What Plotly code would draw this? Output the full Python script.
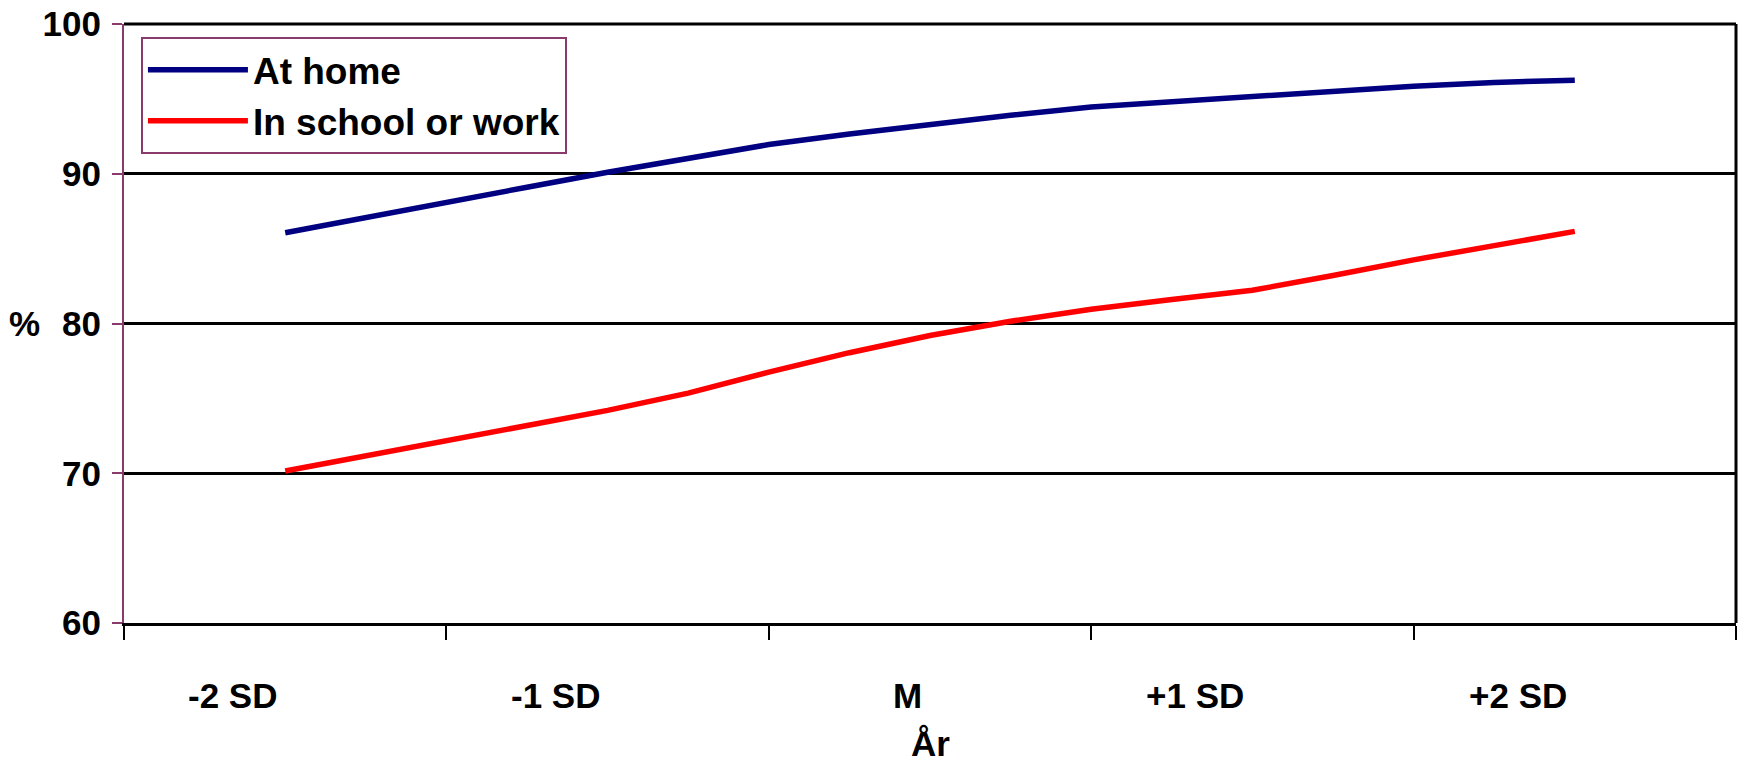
import plotly.graph_objects as go

# Category labels on the x axis (one per SD band)
categories = ["-2 SD", "-1 SD", "M", "+1 SD", "+2 SD"]

# Sample positions along the x axis, in category units (0 = "-2 SD", 4 = "+2 SD")
x_pos = [0, 0.25, 0.5, 0.75, 1, 1.25, 1.5, 1.75, 2, 2.25, 2.5, 2.75, 3, 3.25, 3.5, 3.75, 4]

# Share (%) for each group
at_home = [86.06, 87.1, 88.15, 89.1, 90.1, 91.05, 91.95, 92.66, 93.3,
           93.9, 94.45, 94.8, 95.15, 95.5, 95.85, 96.1, 96.25]
in_school_or_work = [70.15, 71.15, 72.2, 73.2, 74.2, 75.35, 76.75, 78.05, 79.2,
                     80.15, 80.95, 81.6, 82.22, 83.2, 84.25, 85.2, 86.15]

y_ticks = [60, 70, 80, 90, 100]

FONT = "Liberation Sans, Arial, sans-serif"
PURPLE = "#8B3A6E"
TXT = dict(family=FONT, size=35, color="black", weight="bold")

fig = go.Figure()
fig.add_trace(go.Scatter(x=x_pos, y=at_home, mode="lines", name="At home",
                         line=dict(color="#000080", width=5.5), legendgroup="a"))
fig.add_trace(go.Scatter(x=x_pos, y=in_school_or_work, mode="lines", name="In school or work",
                         line=dict(color="#FF0000", width=5.5), legendgroup="b"))

n = len(categories)
fig.update_xaxes(
    range=[-0.5, n - 0.5],
    tickvals=[i - 0.5 for i in range(n + 1)],
    showticklabels=False,
    ticks="outside", ticklen=14, tickwidth=2, tickcolor="black",
    showline=True, linecolor="black", linewidth=3,
    showgrid=False, zeroline=False,
)
fig.update_yaxes(
    range=[y_ticks[0], y_ticks[-1]],
    tickvals=y_ticks,
    ticks="outside", ticklen=10, tickwidth=2, tickcolor=PURPLE,
    showline=True, linecolor=PURPLE, linewidth=2,
    showgrid=True, gridcolor="black", gridwidth=3,
    zeroline=False,
    tickfont=TXT,
    ticklabelstandoff=4,
)

# Category labels, right-aligned just left of each category centre
for i, lab in enumerate(categories):
    fig.add_annotation(x=i, y=0, xref="x", yref="paper", text=lab, showarrow=False,
                       xanchor="right", yanchor="middle", xshift=-6, yshift=-72,
                       font=TXT)

# Axis titles
fig.add_annotation(x=0.5, y=0, xref="paper", yref="paper", text="År", showarrow=False,
                   xanchor="center", yanchor="middle", yshift=-120, font=TXT)
fig.add_annotation(x=0, y=80, xref="paper", yref="y", text="%", showarrow=False,
                   xanchor="center", yanchor="middle", xshift=-100, font=TXT)

# Plot-area frame: top and right edges
fig.add_shape(type="line", xref="paper", yref="paper", x0=0, x1=1, y0=1, y1=1,
              line=dict(color="black", width=3))
fig.add_shape(type="line", xref="paper", yref="paper", x0=1, x1=1, y0=0, y1=1,
              line=dict(color="black", width=3))

fig.update_layout(
    width=1738, height=764,
    margin=dict(l=124, r=2, t=24, b=141),
    plot_bgcolor="white", paper_bgcolor="white",
    showlegend=True,
    legend=dict(
        x=0.0105, y=0.978, xanchor="left", yanchor="top",
        bgcolor="white", bordercolor=PURPLE, borderwidth=2,
        font=dict(family=FONT, size=37, color="black", weight="bold"),
        traceorder="normal", tracegroupgap=0, itemwidth=100,
    ),
)

fig.write_html("out.html")
